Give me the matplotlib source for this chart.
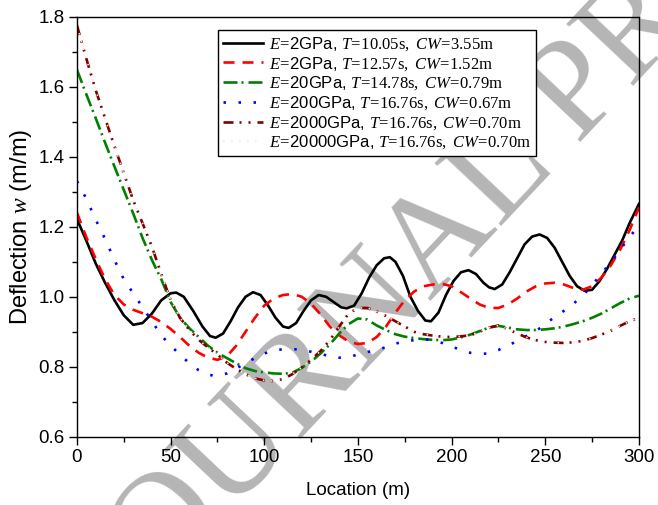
import numpy as np
import matplotlib
matplotlib.use("Agg")
import matplotlib.pyplot as plt

plt.rcParams['font.family'] = ['Liberation Sans', 'DejaVu Sans']
plt.rcParams['mathtext.fontset'] = 'custom'
plt.rcParams['mathtext.rm'] = 'Liberation Serif'
plt.rcParams['mathtext.it'] = 'Liberation Serif:italic'
plt.rcParams['lines.scale_dashes'] = False

# location (m) and deflection (m/m)
x_blk = [0, 5, 10, 15, 20, 25, 30, 35, 40, 45, 50, 53, 57, 62, 67, 71, 74, 78, 82, 86,
         90, 94, 98, 102, 106, 110, 113, 117, 121, 125, 129, 133, 137, 141, 144, 148,
         152, 156, 160, 164, 167, 170, 174, 178, 182, 186, 189, 193, 197, 201, 205, 209,
         213, 217, 220, 223, 227, 231, 235, 239, 243, 247, 251, 255, 259, 263, 267, 271,
         275, 279, 283, 287, 291, 295, 300]
y_blk = [1.222, 1.16, 1.095, 1.04, 0.99, 0.947, 0.92, 0.925, 0.952, 0.99, 1.01, 1.012,
         1.0, 0.96, 0.915, 0.888, 0.883, 0.895, 0.93, 0.97, 1.0, 1.013, 1.005, 0.975,
         0.94, 0.915, 0.911, 0.925, 0.96, 0.99, 1.005, 1.0, 0.985, 0.97, 0.967, 0.975,
         1.01, 1.055, 1.09, 1.11, 1.113, 1.1, 1.06, 1.0, 0.96, 0.932, 0.93, 0.955, 1.005,
         1.045, 1.07, 1.076, 1.065, 1.04, 1.027, 1.022, 1.035, 1.07, 1.11, 1.15, 1.172,
         1.178, 1.168, 1.14, 1.1, 1.06, 1.03, 1.017, 1.02, 1.045, 1.08, 1.12, 1.16, 1.21,
         1.265]

x5 = list(range(0, 305, 5))
y_red = [1.24, 1.17, 1.108, 1.05, 1.005, 0.978, 0.963, 0.953, 0.943, 0.928, 0.908,
         0.885, 0.86, 0.84, 0.826, 0.82, 0.83, 0.86, 0.9, 0.94, 0.975, 0.995, 1.005,
         1.008, 1.0, 0.98, 0.95, 0.915, 0.89, 0.872, 0.865, 0.868, 0.885, 0.915, 0.955,
         0.99, 1.015, 1.03, 1.035, 1.037, 1.03, 1.013, 0.995, 0.978, 0.968, 0.968, 0.978,
         0.995, 1.015, 1.03, 1.038, 1.04, 1.035, 1.025, 1.02, 1.03, 1.055, 1.09, 1.135,
         1.19, 1.255]
y_grn = [1.648, 1.578, 1.51, 1.44, 1.372, 1.305, 1.238, 1.168, 1.105, 1.05, 0.985,
         0.94, 0.91, 0.885, 0.86, 0.84, 0.825, 0.81, 0.796, 0.788, 0.784, 0.781, 0.78,
         0.783, 0.797, 0.815, 0.838, 0.864, 0.895, 0.922, 0.938, 0.935, 0.918, 0.905,
         0.893, 0.886, 0.882, 0.879, 0.877, 0.876, 0.878, 0.884, 0.892, 0.902, 0.912,
         0.917, 0.912, 0.907, 0.905, 0.905, 0.907, 0.91, 0.915, 0.922, 0.93, 0.94, 0.952,
         0.967, 0.982, 0.995, 1.003]
y_blu = [1.33, 1.28, 1.22, 1.165, 1.105, 1.05, 1.01, 0.97, 0.93, 0.89, 0.86, 0.835,
         0.81, 0.79, 0.777, 0.774, 0.781, 0.795, 0.81, 0.825, 0.838, 0.847, 0.85, 0.851,
         0.848, 0.843, 0.837, 0.83, 0.826, 0.828, 0.835, 0.842, 0.848, 0.856, 0.866,
         0.873, 0.876, 0.879, 0.876, 0.868, 0.858, 0.848, 0.84, 0.837, 0.838, 0.848,
         0.86, 0.874, 0.888, 0.902, 0.922, 0.942, 0.96, 0.98, 1.003, 1.033, 1.066, 1.098,
         1.135, 1.17, 1.205]
y_drd = [1.775, 1.68, 1.59, 1.51, 1.43, 1.353, 1.276, 1.21, 1.143, 1.065, 0.99, 0.94,
         0.905, 0.877, 0.855, 0.835, 0.812, 0.794, 0.779, 0.767, 0.761, 0.759, 0.765,
         0.779, 0.798, 0.82, 0.845, 0.876, 0.915, 0.952, 0.968, 0.968, 0.958, 0.945,
         0.93, 0.915, 0.9, 0.893, 0.889, 0.886, 0.885, 0.887, 0.89, 0.9, 0.912, 0.918,
         0.908, 0.895, 0.884, 0.876, 0.871, 0.869, 0.868, 0.87, 0.874, 0.882, 0.892,
         0.903, 0.917, 0.93, 0.94]
y_lgt = [1.775, 1.68, 1.59, 1.51, 1.43, 1.353, 1.276, 1.21, 1.143, 1.065, 0.99, 0.94,
         0.905, 0.877, 0.855, 0.835, 0.812, 0.794, 0.779, 0.767, 0.761, 0.759, 0.765,
         0.779, 0.798, 0.82, 0.845, 0.876, 0.915, 0.952, 0.968, 0.968, 0.958, 0.945,
         0.93, 0.915, 0.9, 0.893, 0.889, 0.886, 0.885, 0.887, 0.89, 0.9, 0.912, 0.918,
         0.908, 0.895, 0.884, 0.876, 0.871, 0.869, 0.868, 0.87, 0.874, 0.882, 0.892,
         0.903, 0.917, 0.93, 0.94]

labels = [
    r"$E\!=\!$2GPa, $T\!=\!10.05\mathrm{s},\ CW\!=\!3.55\mathrm{m}$",
    r"$E\!=\!$2GPa, $T\!=\!12.57\mathrm{s},\ CW\!=\!1.52\mathrm{m}$",
    r"$E\!=\!$20GPa, $T\!=\!14.78\mathrm{s},\ CW\!=\!0.79\mathrm{m}$",
    r"$E\!=\!$200GPa, $T\!=\!16.76\mathrm{s},\ CW\!=\!0.67\mathrm{m}$",
    r"$E\!=\!$2000GPa, $T\!=\!16.76\mathrm{s},\ CW\!=\!0.70\mathrm{m}$",
    r"$E\!=\!$20000GPa, $T\!=\!16.76\mathrm{s},\ CW\!=\!0.70\mathrm{m}$",
]

fig = plt.figure(figsize=(6.58, 5.05), dpi=100)
ax = fig.add_axes([0.117, 0.135, 0.854, 0.832])
ax.patch.set_visible(False)

# watermark of the source page, behind the curves
fig.text(0.187, -0.242, "JOURNAL PRE-PROOF", family='Liberation Serif', fontsize=100,
         color='#b5b5b5', rotation=46.7, rotation_mode='anchor',
         ha='left', va='baseline', zorder=-5)

p = 0.72  # px -> pt
ax.plot(x_blk, y_blk, color='black', lw=1.9, label=labels[0])
ax.plot(x5, y_red, color='red', lw=1.9, dashes=(11*p, 8*p), label=labels[1])
ax.plot(x5, y_grn, color='green', lw=1.9, dashes=(14*p, 4*p, 2*p, 5*p), label=labels[2])
ax.plot(x5, y_blu, color='blue', lw=1.9, dashes=(2.5*p, 12.5*p), label=labels[3])
ax.plot(x5, y_drd, color='#800000', lw=1.9, dashes=(10*p, 6*p, 2*p, 7*p, 2*p, 7*p),
        label=labels[4])
ax.plot(x5, y_lgt, color='#fde3d3', lw=1.2, dashes=(1.5*p, 6.5*p), label=labels[5])

ax.set_xlim(0, 300)
ax.set_ylim(0.6, 1.8)
ax.set_xticks(np.arange(0, 301, 50))
ax.set_xticks(np.arange(25, 300, 50), minor=True)
ax.set_yticks(np.arange(0.6, 1.81, 0.2))
ax.set_yticks(np.arange(0.7, 1.8, 0.2), minor=True)
ax.yaxis.set_major_formatter(matplotlib.ticker.FormatStrFormatter('%.1f'))
ax.tick_params(which='both', direction='out', labelsize=13.5, width=1, top=False, right=False)
ax.tick_params(which='major', length=6, pad=3)
ax.tick_params(which='minor', length=3.5)
for s in ax.spines.values():
    s.set_linewidth(1.0)

ax.set_xlabel("Location (m)", fontsize=13.5, labelpad=11)
ax.set_ylabel(r"Deflection $w$ (m/m)", fontsize=17, labelpad=3)

leg = ax.legend(loc='upper left', bbox_to_anchor=(0.251, 0.968), fontsize=12,
                frameon=True, fancybox=False, edgecolor='black', framealpha=1,
                handlelength=2.4, handletextpad=0.35, labelspacing=0.12,
                borderpad=0.3, borderaxespad=0)
leg.get_frame().set_linewidth(1.0)

fig.savefig("out.png", dpi=100)
